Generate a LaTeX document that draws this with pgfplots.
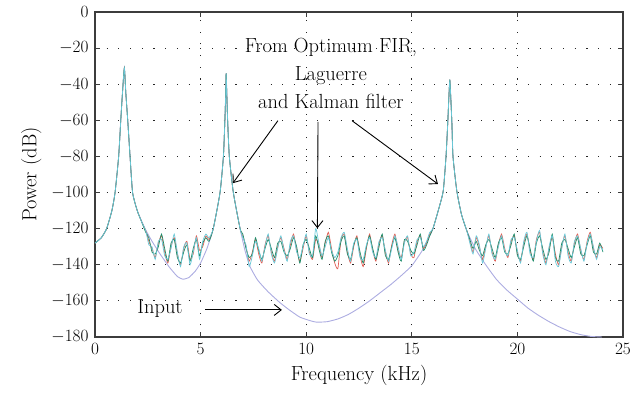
\documentclass[border=0pt]{standalone}
\usepackage{pgfplots}
\pgfplotsset{compat=1.18}
\usepackage{pgfplotstable}
\usetikzlibrary{arrows.meta}
\definecolor{inputc}{RGB}{172,172,225}
\definecolor{redc}{RGB}{225,95,85}
\definecolor{greenc}{RGB}{30,140,105}
\definecolor{cyanc}{RGB}{105,200,215}
\definecolor{axc}{RGB}{60,60,60}

\pgfplotstableread{
x y
0 -128
0.3 -125
0.55 -120
0.8 -110
0.95 -100
1.12 -80
1.22 -60
1.3 -45
1.39 -31
1.46 -45
1.55 -60
1.66 -80
1.78 -100
2.0 -110
2.37 -120
2.7 -127
3.08 -134
3.5 -141
3.9 -146.5
4.17 -148
4.45 -147
4.75 -143.5
5.0 -139
5.3 -131
5.6 -120
5.92 -100
6.08 -80
6.15 -60
6.19 -45
6.21 -34
6.24 -45
6.28 -60
6.36 -80
6.55 -100
6.87 -120
7.1 -132
7.34 -141
7.7 -148.5
8.2 -155
8.76 -161
9.2 -165
9.7 -169
10.2 -171
10.5 -171.8
11.0 -171.5
11.5 -170
12.0 -167.5
12.5 -164
13.0 -160
13.5 -155.5
14.0 -151
14.5 -146
15.0 -140.5
15.5 -132
16.0 -120
16.3 -108
16.49 -99
16.62 -80
16.7 -62
16.76 -46
16.8 -37.5
16.84 -46
16.9 -62
16.95 -80
17.13 -99
17.35 -112
17.6 -121
18.0 -131
18.5 -140
19.0 -148
19.5 -154
20.0 -159
20.5 -164
21.0 -168
21.5 -171.5
22.0 -174.5
22.5 -177
23.0 -178.7
23.5 -179.7
24.0 -180
}\inputtab

\pgfplotstableread{
x r g c
0 -128 -128 -128
0.3 -125 -125 -125
0.55 -120 -120 -120
0.8 -110 -110 -110
0.95 -100 -100 -100
1.12 -80 -80 -80
1.22 -60 -60 -60
1.3 -45 -45 -45
1.39 -31 -31 -31
1.46 -45 -45 -45
1.55 -60 -60 -60
1.66 -80 -80 -80
1.78 -100 -100 -100
2.0 -110 -110 -110
2.2 -116 -116 -116
2.40 -121 -122 -121
2.55 -127 -125 -129
2.70 -131 -133 -130
2.85 -136 -134 -137
3.00 -128 -130 -127
3.15 -124 -123 -126
3.30 -133 -131 -135
3.45 -139 -138 -137
3.60 -130 -128 -131
3.75 -125 -126 -123
3.90 -134 -136 -133
4.05 -140 -139 -141
4.20 -131 -133 -130
4.35 -127 -129 -128
4.50 -137 -138 -140
4.65 -134 -131 -133
4.80 -124 -126 -125
4.95 -132 -135 -137
5.10 -130 -128 -127
5.25 -124 -125 -123
5.40 -126 -127 -125
5.6 -120 -120 -120
5.92 -100 -100 -100
6.08 -80 -80 -80
6.15 -60 -60 -60
6.19 -45 -45 -45
6.21 -34 -34 -34
6.24 -45 -45 -45
6.28 -60 -60 -60
6.36 -80 -80 -80
6.55 -100 -100 -100
6.87 -120 -120 -120
7.00 -124 -123 -125
7.15 -130 -131 -129
7.30 -138 -136 -141
7.45 -133 -134 -135
7.60 -126 -125 -127
7.75 -134 -132 -131
7.90 -139 -137 -138
8.05 -129 -131 -130
8.20 -124 -126 -123
8.35 -133 -131 -134
8.50 -138 -136 -139
8.65 -130 -128 -131
8.80 -125 -127 -124
8.95 -131 -133 -132
9.10 -137 -135 -138
9.25 -129 -131 -127
9.40 -123 -125 -124
9.55 -132 -130 -133
9.70 -138 -139 -136
9.85 -131 -129 -130
10.00 -124 -126 -123
10.15 -133 -131 -134
10.30 -137 -136 -135
10.45 -126 -124 -120
10.60 -129 -131 -128
10.75 -136 -137 -135
10.90 -128 -127 -130
11.05 -122 -124 -125
11.20 -131 -133 -132
11.35 -139 -138 -136
11.50 -142 -135 -133
11.65 -126 -127 -125
11.80 -123 -124 -122
11.95 -133 -134 -131
12.10 -139 -137 -138
12.25 -130 -129 -128
12.40 -124 -125 -126
12.55 -135 -133 -136
12.70 -141 -139 -137
12.85 -131 -130 -129
13.00 -123 -124 -125
13.15 -132 -131 -133
13.30 -138 -137 -136
13.45 -128 -130 -127
13.60 -124 -123 -125
13.75 -133 -135 -132
13.90 -139 -137 -138
14.05 -129 -130 -131
14.20 -123 -125 -124
14.35 -132 -133 -130
14.50 -136 -138 -137
14.65 -127 -126 -128
14.80 -125 -127 -124
14.95 -134 -132 -135
15.10 -136 -134 -133
15.25 -127 -129 -126
15.40 -124 -123 -125
15.55 -131 -132 -130
15.70 -128 -129 -127
15.85 -123 -124 -122
16.0 -120 -120 -120
16.3 -108 -108 -108
16.49 -99 -99 -99
16.62 -80 -80 -80
16.7 -62 -62 -62
16.76 -46 -46 -46
16.8 -37.5 -37.5 -37.5
16.84 -46 -46 -46
16.9 -62 -62 -62
16.95 -80 -80 -80
17.13 -99 -99 -99
17.35 -112 -112 -112
17.6 -121 -121 -121
17.75 -127 -126 -128
17.90 -133 -131 -134
18.05 -125 -127 -124
18.20 -130 -132 -129
18.35 -137 -135 -139
18.50 -130 -129 -131
18.65 -124 -126 -123
18.80 -133 -131 -134
18.95 -138 -136 -137
19.10 -129 -128 -130
19.25 -123 -125 -124
19.40 -131 -133 -132
19.55 -136 -134 -135
19.70 -127 -129 -126
19.85 -124 -123 -125
20.00 -133 -135 -132
20.15 -138 -137 -139
20.30 -128 -130 -127
20.45 -123 -124 -122
20.60 -132 -131 -134
20.75 -137 -138 -136
20.90 -126 -128 -127
21.05 -122 -124 -121
21.20 -133 -131 -134
21.35 -139 -137 -140
21.50 -131 -133 -130
21.65 -125 -123 -124
21.80 -134 -136 -138
21.95 -140 -138 -141
22.10 -130 -128 -131
22.25 -124 -126 -123
22.40 -133 -131 -135
22.55 -138 -136 -139
22.70 -128 -130 -127
22.85 -123 -125 -124
23.00 -132 -134 -131
23.15 -137 -135 -138
23.30 -127 -129 -128
23.45 -122 -124 -123
23.60 -131 -133 -130
23.75 -136 -134 -137
23.90 -129 -128 -130
24.05 -131 -133 -132
}\outtab

\begin{document}
\fontsize{19}{28}\selectfont
\begin{tikzpicture}
\begin{axis}[
  scale only axis,
  width=528bp, height=325bp,
  xmin=0, xmax=25, ymin=-180, ymax=0,
  xtick={0,5,...,25}, ytick={-180,-160,...,0},
  tick align=inside,
  major tick length=5bp,
  axis line style={axc, line width=1.3bp},
  tick style={axc, line width=1bp},
  grid=major,
  major grid style={black!85, line width=1.1bp, dash pattern=on 1.1bp off 10.6bp},
  xlabel={Frequency (kHz)},
  ylabel={Power (dB)},
  tick label style={font=\fontsize{19}{22}\selectfont},
  label style={font=\fontsize{20.5}{22}\selectfont},
  xlabel style={yshift=2bp},
  ylabel style={yshift=-3bp},
  clip=true,
]
\addplot[inputc, line width=0.9bp, smooth, tension=0.3] table[x=x,y=y] {\inputtab};
\addplot[redc, line width=0.7bp, smooth, tension=0.35] table[x=x,y=r] {\outtab};
\addplot[greenc, line width=0.7bp, smooth, tension=0.35] table[x=x,y=g] {\outtab};
\addplot[cyanc, line width=0.7bp, smooth, tension=0.35] table[x=x,y=c] {\outtab};

\node[align=center, font=\fontsize{20.5}{28}\selectfont] at (axis cs:11.17,-34) {From Optimum FIR,\\Laguerre\\and Kalman filter};
\node[font=\fontsize{20.5}{22}\selectfont] at (axis cs:3.08,-164.4) {Input};
\draw[-{Straight Barb[length=7bp,width=11bp]}, black, line width=0.9bp] (axis cs:5.21,-165) -- (axis cs:8.85,-165);
\draw[-{Straight Barb[length=7bp,width=11bp]}, black, line width=0.9bp] (axis cs:8.66,-60.2) -- (axis cs:6.53,-94.8);
\draw[-{Straight Barb[length=7bp,width=11bp]}, black, line width=0.9bp] (axis cs:10.56,-60.8) -- (axis cs:10.53,-119.8);
\draw[-{Straight Barb[length=7bp,width=11bp]}, black, line width=0.9bp] (axis cs:12.17,-60.2) -- (axis cs:16.24,-95.3);
\end{axis}
\pgfresetboundingbox
\useasboundingbox ([shift={(-95bp,-65bp)}]current axis.south west) rectangle ([shift={(8bp,12bp)}]current axis.north east);
\end{tikzpicture}
\end{document}
